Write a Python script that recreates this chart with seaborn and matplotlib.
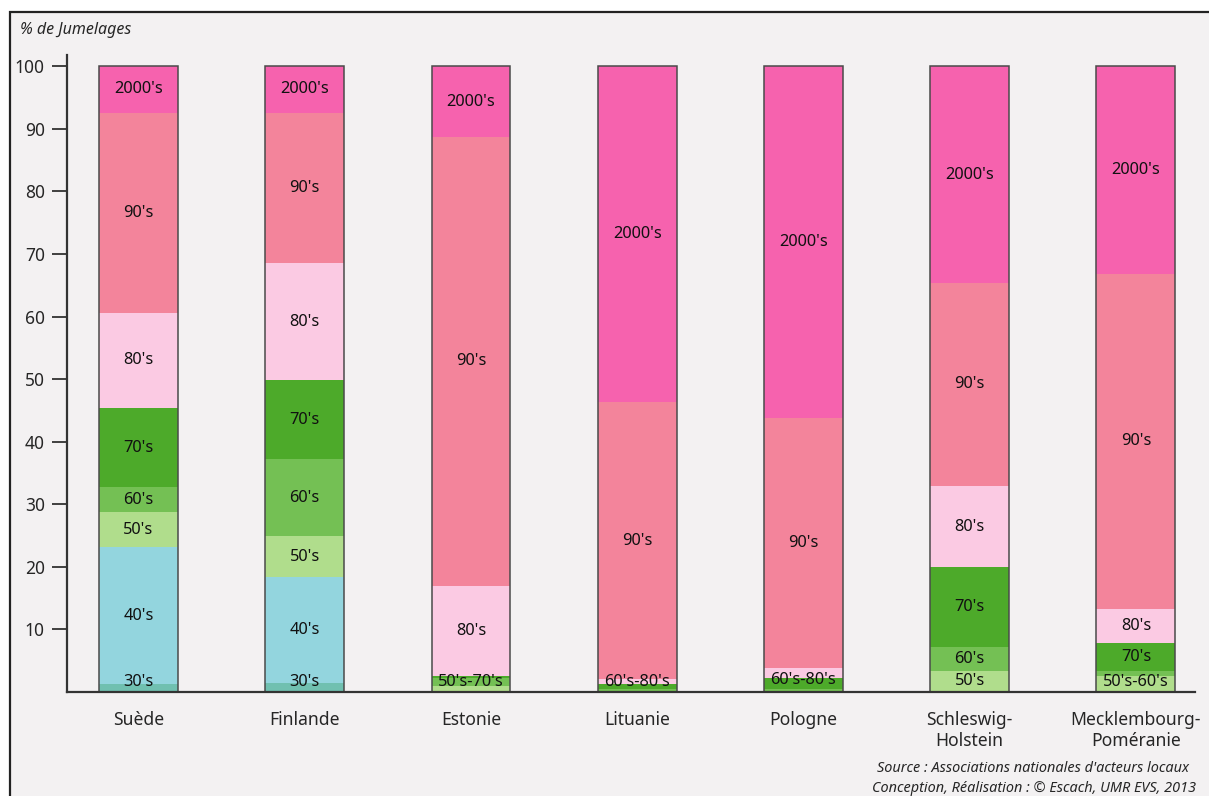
import numpy as np
import pandas as pd
import matplotlib
matplotlib.use("Agg")
import matplotlib.pyplot as plt
import seaborn as sns
from matplotlib.patches import Rectangle

# Données (% de jumelages par décennie)
regions = ["Suède", "Finlande", "Estonie", "Lituanie", "Pologne",
           "Schleswig-\nHolstein", "Mecklembourg-\nPoméranie"]
decades = ["30's", "40's", "50's", "60's", "70's", "80's", "90's", "2000's"]

v30s = [1.2, 1.4, 0.0, 0.0, 0.0, 0.0, 0.0]
v40s = [21.9, 17.0, 0.0, 0.0, 0.0, 0.0, 0.0]
v50s = [5.6, 6.5, 0.9, 0.0, 0.0, 3.4, 2.5]
v60s = [4.0, 12.3, 1.3, 0.4, 0.4, 3.8, 0.8]
v70s = [12.7, 12.6, 0.3, 0.8, 1.9, 12.7, 4.6]
v80s = [15.2, 18.8, 14.5, 0.8, 1.5, 13.0, 5.4]
v90s = [32.0, 24.0, 71.7, 44.3, 40.0, 32.5, 53.5]
v2000s = [7.4, 7.4, 11.3, 53.7, 56.2, 34.6, 33.2]

# étiquettes : (texte, première décennie, dernière décennie)
labels = [
    [("30's", 0, 0), ("40's", 1, 1), ("50's", 2, 2), ("60's", 3, 3), ("70's", 4, 4),
     ("80's", 5, 5), ("90's", 6, 6), ("2000's", 7, 7)],
    [("30's", 0, 0), ("40's", 1, 1), ("50's", 2, 2), ("60's", 3, 3), ("70's", 4, 4),
     ("80's", 5, 5), ("90's", 6, 6), ("2000's", 7, 7)],
    [("50's-70's", 2, 4), ("80's", 5, 5), ("90's", 6, 6), ("2000's", 7, 7)],
    [("60's-80's", 3, 5), ("90's", 6, 6), ("2000's", 7, 7)],
    [("60's-80's", 3, 5), ("90's", 6, 6), ("2000's", 7, 7)],
    [("50's", 2, 2), ("60's", 3, 3), ("70's", 4, 4), ("80's", 5, 5),
     ("90's", 6, 6), ("2000's", 7, 7)],
    [("50's-60's", 2, 3), ("70's", 4, 4), ("80's", 5, 5), ("90's", 6, 6),
     ("2000's", 7, 7)],
]

colors = ["#70C0B0", "#93D5DE", "#B0DD8C", "#74C054", "#4DAA2A",
          "#FBCAE3", "#F3849B", "#F662AE"]

BG = "#F3F1F2"
FONT = ["Noto Sans", "DejaVu Sans"]

sns.set_theme(style="white")
plt.rcParams["font.family"] = FONT

values = np.array([v30s, v40s, v50s, v60s, v70s, v80s, v90s, v2000s])
cum = np.vstack([np.zeros(len(regions)), np.cumsum(values, axis=0)])

fig = plt.figure(figsize=(12.09, 7.96), dpi=100)
fig.patch.set_facecolor("white")
fig.patches.append(Rectangle((10 / 1209, -0.05), 1.2, (796 - 12) / 796 + 0.05,
                             transform=fig.transFigure, facecolor=BG,
                             edgecolor="#222222", linewidth=1.6, zorder=-10))

ax = fig.add_axes([67 / 1209, (796 - 692) / 796, (1195 - 67) / 1209, (692 - 55) / 796])
ax.set_facecolor(BG)

order = regions
for i, dec in enumerate(decades):
    df = pd.DataFrame({"region": regions, "val": values[i]})
    sns.barplot(data=df, x="region", y="val", order=order, color=colors[i],
                bottom=cum[i], width=0.475, saturation=1, linewidth=0,
                edgecolor="none", ax=ax)

# contour des barres
tot = pd.DataFrame({"region": regions, "val": cum[-1]})
sns.barplot(data=tot, x="region", y="val", order=order, fill=False,
            width=0.475, linewidth=1.1, edgecolor="#4a4a4a", ax=ax)

for j, lab in enumerate(labels):
    for text, a, b in lab:
        lo, hi = cum[a, j], cum[b + 1, j]
        y = max((lo + hi) / 2, 1.6)
        ax.text(j, y, text, ha="center", va="center", fontsize=11.8, color="#111111")

ax.set_xlim(-0.43, 6.355)
ax.set_ylim(0, 101.8)
ax.set_yticks(np.arange(10, 101, 10))
ax.set_yticklabels([str(t) for t in range(10, 101, 10)], fontsize=12.5)
ax.set_xlabel("")
ax.set_ylabel("")
ax.tick_params(axis="x", length=0, pad=14, labelsize=12.6)
ax.tick_params(axis="y", direction="out", length=11, width=1.2, color="#222222",
               pad=5, left=True)
for s in ["top", "right"]:
    ax.spines[s].set_visible(False)
for s in ["left", "bottom"]:
    ax.spines[s].set_color("#333333")
    ax.spines[s].set_linewidth(1.6)

fig.text(20 / 1209, 1 - 30 / 796, "% de Jumelages", fontsize=11.5, style="italic",
         ha="left", va="center")
fig.text(1189 / 1209, 1 - 769 / 796, "Source : Associations nationales d'acteurs locaux",
         fontsize=10.4, style="italic", ha="right", va="center")
fig.text(1196 / 1209, 1 - 788 / 796, "Conception, Réalisation : © Escach, UMR EVS, 2013",
         fontsize=10.4, style="italic", ha="right", va="center")

fig.savefig("out.png", dpi=100, facecolor=fig.get_facecolor())
